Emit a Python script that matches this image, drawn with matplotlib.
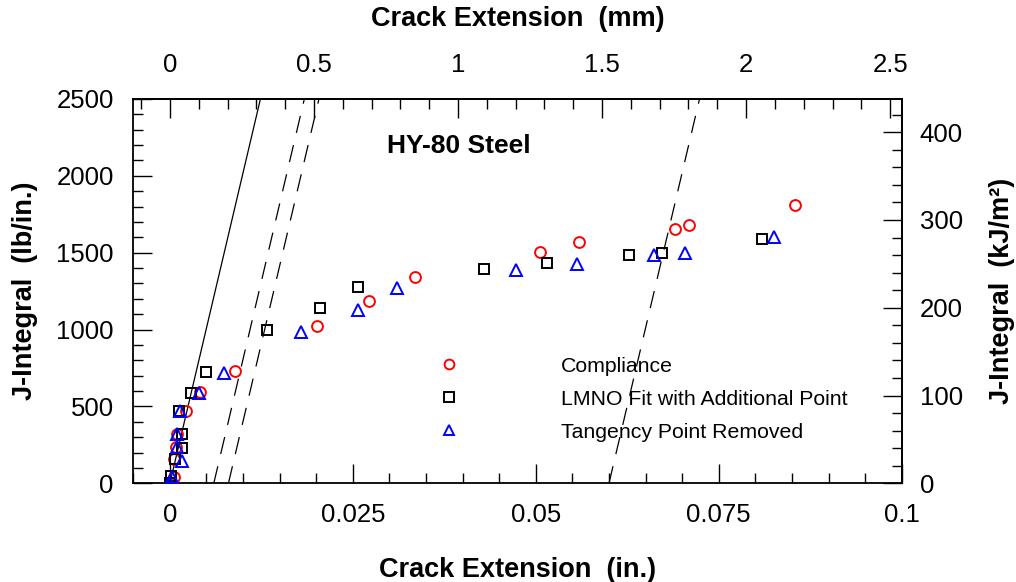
import matplotlib
matplotlib.use("Agg")
import matplotlib.pyplot as plt
from matplotlib.ticker import MultipleLocator, FixedLocator, FuncFormatter
from matplotlib.lines import Line2D
import numpy as np

plt.rcParams['font.family'] = ['Liberation Sans', 'DejaVu Sans']

# Crack extension (in.) and J-integral (lb/in.) for each analysis method
compliance_da = [0.0, 0.00055, 0.00055, 0.00078, 0.00091, 0.00218, 0.00409, 0.00896,
                 0.02005, 0.02718, 0.03351, 0.05059, 0.05591, 0.06900, 0.07091, 0.08537]
compliance_j = [0, 43, 156, 234, 319, 472, 592, 731,
                1023, 1184, 1343, 1505, 1572, 1652, 1682, 1808]

lmno_da = [0.0, 0.00014, 0.00072, 0.00160, 0.00168, 0.00127, 0.00286, 0.00500,
           0.01332, 0.02046, 0.02577, 0.04286, 0.05151, 0.06273, 0.06727, 0.08091]
lmno_j = [0, 47, 156, 232, 319, 472, 589, 724,
          997, 1138, 1279, 1392, 1431, 1485, 1496, 1589]

tangency_da = [0.0, 0.00031, 0.00168, 0.00100, 0.00091, 0.00136, 0.00400, 0.00736,
               0.01791, 0.02564, 0.03100, 0.04736, 0.05564, 0.06614, 0.07037, 0.08260]
tangency_j = [0, 43, 145, 234, 319, 472, 589, 719,
              982, 1125, 1268, 1388, 1425, 1485, 1496, 1600]

series_labels = ['Compliance', 'LMNO Fit with Additional Point', 'Tangency Point Removed']

# Tick values for each axis
in_ticks = [0, 0.025, 0.05, 0.075, 0.1]
mm_ticks = [0, 0.5, 1, 1.5, 2, 2.5]
lbin_ticks = [0, 500, 1000, 1500, 2000, 2500]
kjm2_ticks = [0, 100, 200, 300, 400]

# Blunting line slope (lb/in. per in.) and offset exclusion lines (in.)
blunting_slope = 2.021e5
offsets = [0.006, 0.008, 0.060]

IN_TO_MM = 25.4
LBIN_TO_KJM2 = 0.17513

fig = plt.figure(figsize=(10.16, 5.82), dpi=100)
ax = fig.add_axes([0.1312, 0.1696, 0.7563, 0.6603])

xmin, xmax = -0.005, 0.1
ymin, ymax = 0, 2500
ax.set_xlim(xmin, xmax)
ax.set_ylim(ymin, ymax)

# Blunting line and offset lines
jj = np.array([0, ymax])
ax.plot(jj / blunting_slope, jj, color='black', lw=0.9, zorder=1)
for off in offsets:
    ln, = ax.plot(off + jj / blunting_slope, jj, color='black', lw=0.9, zorder=1)
    ln.set_dashes((14, 10))

ms = 7.8
mew = 1.4
ax.plot(compliance_da, compliance_j, 'o', ms=ms, mfc='none', mec='#ff0000', mew=mew, zorder=3)
ax.plot(lmno_da, lmno_j, 's', ms=ms, mfc='none', mec='black', mew=mew, zorder=3)
ax.plot(tangency_da, tangency_j, '^', ms=ms + 0.6, mfc='none', mec='#0000ff', mew=mew, zorder=3)

ax.text(0.0297, 2194, 'HY-80 Steel', fontsize=19, fontweight='bold', ha='left', va='center')

handles = [
    Line2D([], [], ls='none', marker='o', ms=ms, mfc='none', mec='#ff0000', mew=mew),
    Line2D([], [], ls='none', marker='s', ms=ms, mfc='none', mec='black', mew=mew),
    Line2D([], [], ls='none', marker='^', ms=ms + 0.6, mfc='none', mec='#0000ff', mew=mew),
]
ax.legend(handles, series_labels, loc='upper left', bbox_to_anchor=(0.3967, 0.3292),
          frameon=False, fontsize=15.3, handlelength=1.0, handletextpad=4.77,
          labelspacing=0.66, borderpad=0, borderaxespad=0, markerscale=0.9)

tick_fs = 18.5
label_fs = 19.5
fmt = FuncFormatter(lambda v, p: '%g' % round(v, 4))

ax.xaxis.set_major_locator(FixedLocator(in_ticks))
ax.xaxis.set_minor_locator(MultipleLocator(0.005))
ax.yaxis.set_major_locator(FixedLocator(lbin_ticks))
ax.yaxis.set_minor_locator(MultipleLocator(100))
ax.xaxis.set_major_formatter(fmt)
ax.tick_params(which='both', direction='in', top=False, right=False, width=1.0)
ax.tick_params(which='major', length=14, labelsize=tick_fs, pad=14)
ax.tick_params(which='minor', length=7)

for sp in ax.spines.values():
    sp.set_linewidth(1.3)

# Top axis in millimetres
secx = ax.secondary_xaxis('top', functions=(lambda x: x * IN_TO_MM, lambda x: x / IN_TO_MM))
secx.xaxis.set_major_locator(FixedLocator(mm_ticks))
secx.xaxis.set_minor_locator(MultipleLocator(0.1))
secx.xaxis.set_major_formatter(fmt)
secx.tick_params(which='both', direction='in', width=1.0)
secx.tick_params(which='major', length=14, labelsize=tick_fs, pad=16)
secx.tick_params(which='minor', length=7)
secx.spines['top'].set_linewidth(1.3)
secx.set_xlabel('Crack Extension  (mm)', fontsize=label_fs, fontweight='bold', labelpad=19)

# Right axis in kJ/m^2
secy = ax.secondary_yaxis('right', functions=(lambda y: y * LBIN_TO_KJM2, lambda y: y / LBIN_TO_KJM2))
secy.yaxis.set_major_locator(FixedLocator(kjm2_ticks))
secy.yaxis.set_minor_locator(MultipleLocator(20))
secy.tick_params(which='both', direction='in', width=1.0)
secy.tick_params(which='major', length=14, labelsize=tick_fs, pad=13)
secy.tick_params(which='minor', length=7)
secy.spines['right'].set_linewidth(1.3)
secy.set_ylabel('J-Integral  (kJ/m²)', fontsize=label_fs, fontweight='bold', labelpad=19)

ax.set_xlabel('Crack Extension  (in.)', fontsize=label_fs, fontweight='bold', labelpad=22)
ax.set_ylabel('J-Integral  (lb/in.)', fontsize=label_fs, fontweight='bold', labelpad=13)

fig.savefig('out.png', dpi=100)
